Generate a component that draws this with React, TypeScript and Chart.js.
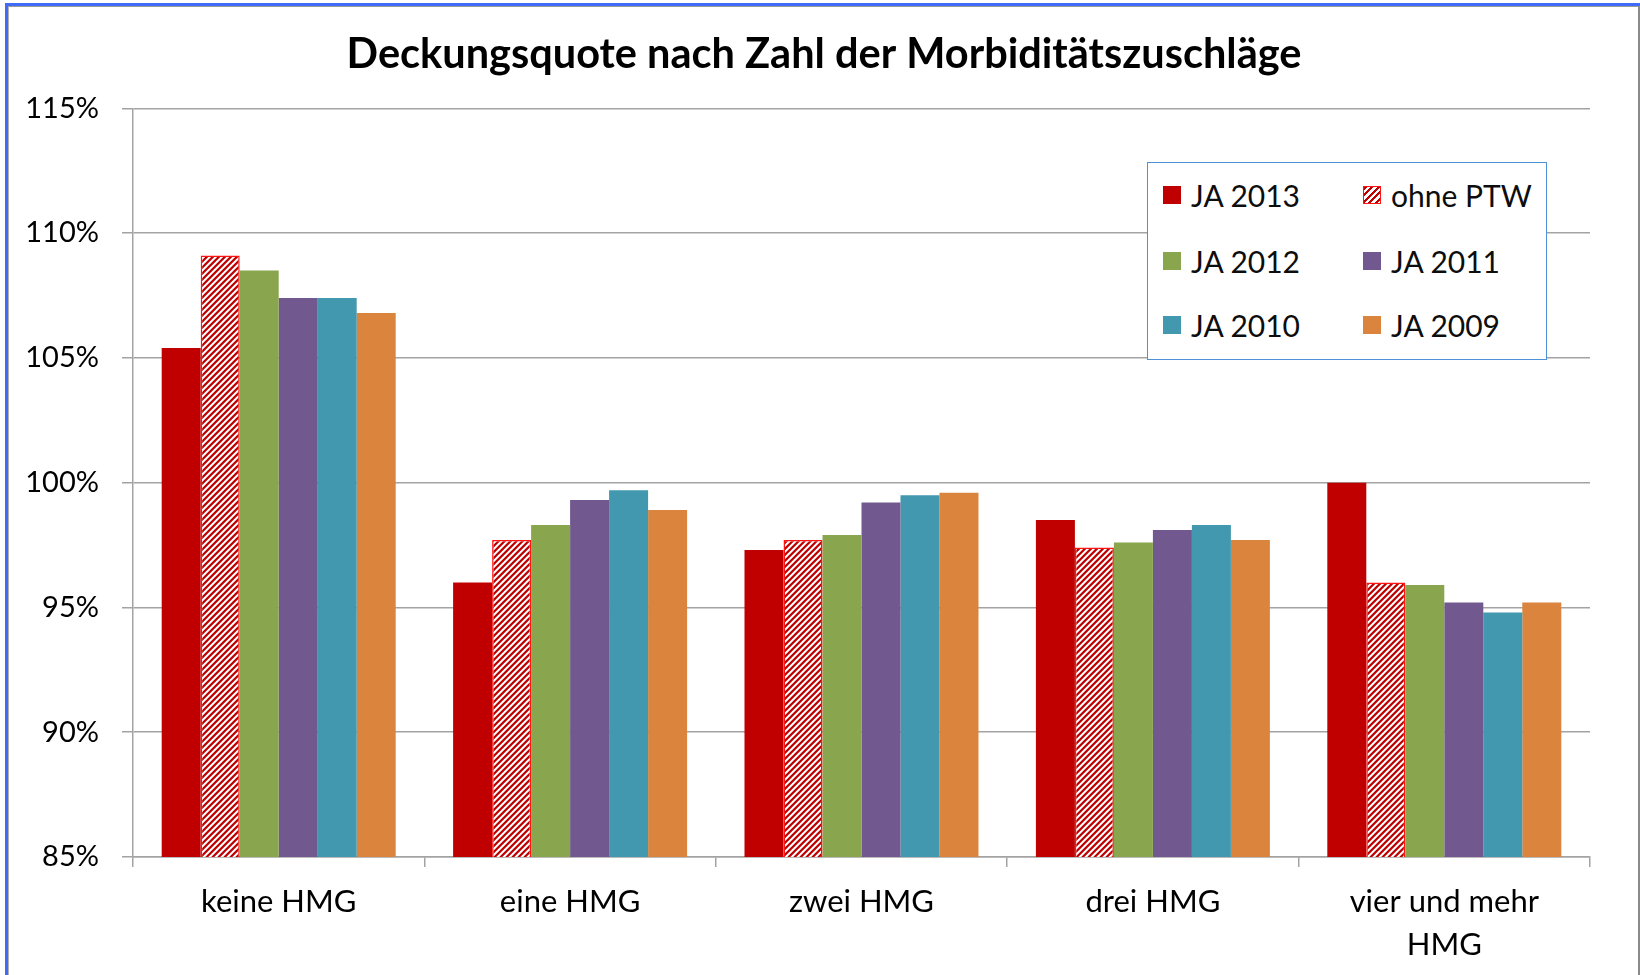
import React, { useEffect, useRef } from "react";
import { Chart, registerables } from "chart.js";

Chart.register(...registerables);

// ---- data ----
const categories: (string | string[])[] = [
  "keine HMG",
  "eine HMG",
  "zwei HMG",
  "drei HMG",
  ["vier und mehr", "HMG"],
];
const seriesLabels = ["JA 2013", "ohne PTW", "JA 2012", "JA 2011", "JA 2010", "JA 2009"];
const ja2013 = [105.4, 96.0, 97.3, 98.5, 100.0];
const ohnePTW = [109.1, 97.7, 97.7, 97.4, 96.0];
const ja2012 = [108.5, 98.3, 97.9, 97.6, 95.9];
const ja2011 = [107.4, 99.3, 99.2, 98.1, 95.2];
const ja2010 = [107.4, 99.7, 99.5, 98.3, 94.8];
const ja2009 = [106.8, 98.9, 99.6, 97.7, 95.2];
const yTicks = [85, 90, 95, 100, 105, 110, 115];
const titleText = "Deckungsquote nach Zahl der Morbiditätszuschläge";

const seriesValues = [ja2013, ohnePTW, ja2012, ja2011, ja2010, ja2009];
const seriesColors = ["#C00000", "#C00000", "#89A54E", "#71588F", "#4198AF", "#DB843D"];

const FONT = "Lato, 'Open Sans', sans-serif";
const GRID = "#a3a3a3";

function makeHatch(): CanvasPattern | string {
  const s = 6;
  const c = document.createElement("canvas");
  c.width = s;
  c.height = s;
  const g = c.getContext("2d");
  if (!g) return "#C00000";
  const img = g.createImageData(s, s);
  for (let y = 0; y < s; y++) {
    for (let x = 0; x < s; x++) {
      const i = (y * s + x) * 4;
      const d = (x + y) % s;
      let rgb = [255, 255, 255];
      if (d < 2) rgb = [192, 0, 0];
      else if (d === 2) rgb = [205, 60, 60];
      else if (d === 5) rgb = [235, 170, 170];
      img.data[i] = rgb[0];
      img.data[i + 1] = rgb[1];
      img.data[i + 2] = rgb[2];
      img.data[i + 3] = 255;
    }
  }
  g.putImageData(img, 0, 0);
  return g.createPattern(c, "repeat") || "#C00000";
}

const titlePlugin = {
  id: "chartTitleText",
  afterDraw(chart: any) {
    const ctx = chart.ctx;
    ctx.save();
    ctx.font = `bold 41.5px ${FONT}`;
    ctx.fillStyle = "#000";
    ctx.textAlign = "center";
    ctx.textBaseline = "middle";
    ctx.fillText(titleText, 824, 55);
    ctx.restore();
  },
};

const legendRows = [
  [0, 1],
  [2, 3],
  [4, 5],
];
const rowCenters = [33, 99.5, 163.5];
const colSquareLeft = [16, 216];

export default function App() {
  const ref = useRef<HTMLCanvasElement>(null);

  useEffect(() => {
    let chart: Chart | null = null;
    let cancelled = false;
    const build = () => {
      if (cancelled || !ref.current) return;
      const ctx = ref.current.getContext("2d");
      if (!ctx) return;
      const hatch = makeHatch();
      chart = new Chart(ctx, {
        type: "bar",
        data: {
          labels: categories,
          datasets: seriesValues.map((d, i) => ({
            label: seriesLabels[i],
            data: d,
            backgroundColor: i === 1 ? (hatch as any) : seriesColors[i],
            borderColor: i === 1 ? "#FF1414" : seriesColors[i],
            borderWidth: i === 1 ? 1.5 : 0,
            borderSkipped: false,
            categoryPercentage: 0.803,
            barPercentage: 1,
          })),
        },
        plugins: [titlePlugin],
        options: {
          responsive: false,
          animation: false,
          devicePixelRatio: 1,
          layout: { padding: { left: 15, right: 50, top: 108.3, bottom: 0 } },
          plugins: {
            legend: { display: false },
            tooltip: { enabled: false },
            title: { display: false },
          },
          scales: {
            x: {
              offset: true,
              grid: {
                display: true,
                drawOnChartArea: false,
                drawTicks: true,
                tickLength: 10,
                color: GRID,
                lineWidth: 1.5,
                offset: true,
              },
              border: { display: true, color: GRID, width: 1.5 },
              ticks: {
                color: "#000",
                font: { family: FONT, size: 31, lineHeight: 43 / 31 },
                padding: 13.5,
                maxRotation: 0,
                autoSkip: false,
              },
              afterFit: (a: any) => {
                a.height = 118;
              },
            },
            y: {
              min: 85,
              max: 115,
              beginAtZero: false,
              afterBuildTicks: (a: any) => {
                a.ticks = yTicks.map((v) => ({ value: v }));
              },
              grid: { color: GRID, lineWidth: 1.5, tickLength: 11 },
              border: { display: true, color: GRID, width: 1.5 },
              ticks: {
                color: "#000",
                font: { family: FONT, size: 29 },
                padding: 23,
                callback: (v: any) => `${v}%`,
              },
              afterFit: (a: any) => {
                a.width = 118;
              },
            },
          },
        },
      } as any);
    };
    const fonts: any = (document as any).fonts;
    if (fonts && fonts.load) {
      Promise.all([fonts.load(`30px Lato`), fonts.load(`bold 41.5px Lato`)]).then(build, build);
    } else {
      build();
    }
    return () => {
      cancelled = true;
      if (chart) chart.destroy();
    };
  }, []);

  return (
    <div
      style={{
        position: "absolute",
        left: 0,
        top: 0,
        width: 1640,
        height: 975,
        overflow: "hidden",
        background: "#fff",
      }}
    >
      <canvas
        ref={ref}
        width={1640}
        height={975}
        style={{ position: "absolute", left: 0, top: 0, width: 1640, height: 975 }}
      />
      {/* frame */}
      <div
        style={{
          position: "absolute",
          left: 5,
          top: 3,
          right: 0,
          bottom: -20,
          borderTop: "3px solid #3F6BF7",
          borderLeft: "3px solid #3F6BF7",
          pointerEvents: "none",
        }}
      />
      <div
        style={{
          position: "absolute",
          left: 8,
          top: 6,
          right: 0,
          bottom: -20,
          borderTop: "1.5px solid #9a9a9a",
          borderLeft: "1.5px solid #b0b0b0",
          borderRight: "2px solid #8a8a8a",
          pointerEvents: "none",
        }}
      />
      {/* legend */}
      <div
        style={{
          position: "absolute",
          left: 1147,
          top: 162,
          width: 400,
          height: 198,
          boxSizing: "border-box",
          border: "1.5px solid #4F91D6",
          background: "#fff",
          fontFamily: FONT,
          fontSize: 30,
          color: "#0d0d0d",
        }}
      >
        {legendRows.map((row, r) =>
          row.map((si, c) => (
            <React.Fragment key={`${r}-${c}`}>
              <div
                style={{
                  position: "absolute",
                  left: colSquareLeft[c] - 1.5,
                  top: rowCenters[r] - 9 - 1.5,
                  width: 18,
                  height: 18,
                  boxSizing: "border-box",
                  background:
                    si === 1
                      ? "repeating-linear-gradient(135deg, #C00000 0px, #C00000 2.2px, #ffffff 2.2px, #ffffff 4.6px)"
                      : seriesColors[si],
                  border: si === 1 ? "1.5px solid #FF1414" : "none",
                }}
              />
              <div
                style={{
                  position: "absolute",
                  left: colSquareLeft[c] + 27,
                  top: rowCenters[r] - 18 - 1.5,
                  height: 36,
                  lineHeight: "36px",
                  whiteSpace: "nowrap",
                }}
              >
                {seriesLabels[si]}
              </div>
            </React.Fragment>
          ))
        )}
      </div>
    </div>
  );
}
